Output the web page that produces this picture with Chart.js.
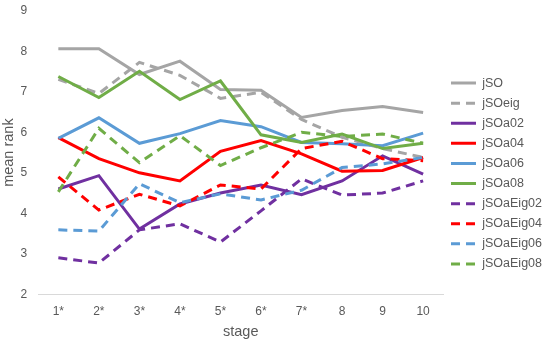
<!DOCTYPE html>
<html>
<head>
<meta charset="utf-8">
<script src="https://cdn.jsdelivr.net/npm/chart.js@4.4.1/dist/chart.umd.min.js"></script>
<style>
  html, body { margin: 0; padding: 0; background: #fff; }
  #wrap { width: 550px; height: 340px; position: relative; }
</style>
</head>
<body>
<div id="wrap"><canvas id="chart"></canvas></div>
<script>
// === DATA ===
const stages = ['1*', '2*', '3*', '4*', '5*', '6*', '7*', '8', '9', '10'];
const yTicks = [2, 3, 4, 5, 6, 7, 8, 9];

const jSO       = [8.07, 8.07, 7.43, 7.76, 7.06, 7.04, 6.37, 6.54, 6.64, 6.49];
const jSOeig    = [7.31, 6.96, 7.73, 7.41, 6.84, 6.99, 6.32, 5.88, 5.6, 5.38];
const jSOa02    = [4.6, 4.93, 3.61, 4.23, 4.5, 4.7, 4.46, 4.8, 5.42, 4.97];
const jSOa04    = [5.87, 5.35, 5.0, 4.8, 5.53, 5.8, 5.47, 5.04, 5.06, 5.38];
const jSOa06    = [5.85, 6.36, 5.73, 5.97, 6.29, 6.14, 5.75, 5.72, 5.67, 5.98];
const jSOa08    = [7.38, 6.86, 7.51, 6.81, 7.27, 5.94, 5.75, 5.96, 5.6, 5.73];
const jSOaEig02 = [2.9, 2.77, 3.59, 3.74, 3.29, 4.06, 4.85, 4.45, 4.5, 4.8];
const jSOaEig04 = [4.9, 4.08, 4.47, 4.18, 4.7, 4.6, 5.6, 5.78, 5.35, 5.3];
const jSOaEig06 = [3.59, 3.56, 4.73, 4.26, 4.48, 4.33, 4.57, 5.13, 5.22, 5.38];
const jSOaEig08 = [4.53, 6.1, 5.25, 5.92, 5.18, 5.62, 6.0, 5.9, 5.96, 5.73];

// === STYLE ===
const GRAY = '#A5A5A5', PURPLE = '#7030A0', RED = '#FF0000', BLUE = '#5B9BD5', GREEN = '#70AD47';
const TXT = '#595959';
const DASH = [9, 6];

const series = [
  ['jSO', jSO, GRAY, false],
  ['jSOeig', jSOeig, GRAY, true],
  ['jSOa02', jSOa02, PURPLE, false],
  ['jSOa04', jSOa04, RED, false],
  ['jSOa06', jSOa06, BLUE, false],
  ['jSOa08', jSOa08, GREEN, false],
  ['jSOaEig02', jSOaEig02, PURPLE, true],
  ['jSOaEig04', jSOaEig04, RED, true],
  ['jSOaEig06', jSOaEig06, BLUE, true],
  ['jSOaEig08', jSOaEig08, GREEN, true]
];

Chart.defaults.font.family = "'Liberation Sans', Arial, sans-serif";
Chart.defaults.color = TXT;

// default legend labels, but keep the dash of each line (point style drops it)
const baseLabels = Chart.defaults.plugins.legend.labels.generateLabels;
function legendLabels(chart) {
  return baseLabels(chart).map(item => {
    const ds = chart.data.datasets[item.datasetIndex];
    item.lineDash = ds.borderDash;
    item.lineWidth = ds.borderWidth;
    item.strokeStyle = ds.borderColor;
    return item;
  }).sort((a, b) => a.datasetIndex - b.datasetIndex);
}

new Chart(document.getElementById('chart'), {
  type: 'line',
  data: {
    labels: stages,
    datasets: series.map(([label, data, color, dashed], i) => ({
      label, data,
      borderColor: color, backgroundColor: color,
      borderWidth: 3, borderDash: dashed ? DASH : [],
      pointRadius: 0, pointHoverRadius: 0, tension: 0,
      fill: false,
      order: series.length - i   // later series drawn on top, like the original
    }))
  },
  options: {
    responsive: true, maintainAspectRatio: false, animation: false,
    layout: { autoPadding: false, padding: { top: 11, right: -2, left: 0, bottom: -1 } },
    plugins: {
      tooltip: { enabled: false },
      legend: {
        position: 'right',
        // blank title, only used to nudge the item column up a bit
        title: { display: true, text: ' ', font: { size: 1 }, padding: { top: -6.2, bottom: 0 } },
        labels: {
          usePointStyle: true, pointStyle: 'line', pointStyleWidth: 25,
          font: { size: 12.5 }, color: TXT, padding: 7.6,
          generateLabels: legendLabels
        }
      }
    },
    scales: {
      x: {
        offset: true,
        grid: { display: false, drawTicks: false },
        border: { display: true, color: '#D9D9D9', width: 1 },
        ticks: { font: { size: 12 }, color: TXT, padding: 10, maxRotation: 0 },
        title: { display: true, text: 'stage', font: { size: 14.5 }, color: TXT, padding: { top: -5, bottom: 0 } }
      },
      y: {
        min: 2, max: 9,
        afterBuildTicks: axis => { axis.ticks = yTicks.map(v => ({ value: v })); },
        // tick padding would otherwise also push the plot top down
        afterFit: axis => { axis.paddingTop = 0; axis.paddingBottom = 0; },
        grid: { display: false, drawTicks: false },
        border: { display: false },
        ticks: { font: { size: 12 }, color: TXT, padding: 11 },
        title: { display: true, text: 'mean rank', font: { size: 14.5 }, color: TXT, padding: { top: 0, bottom: -8 } }
      }
    }
  }
});
</script>
</body>
</html>
